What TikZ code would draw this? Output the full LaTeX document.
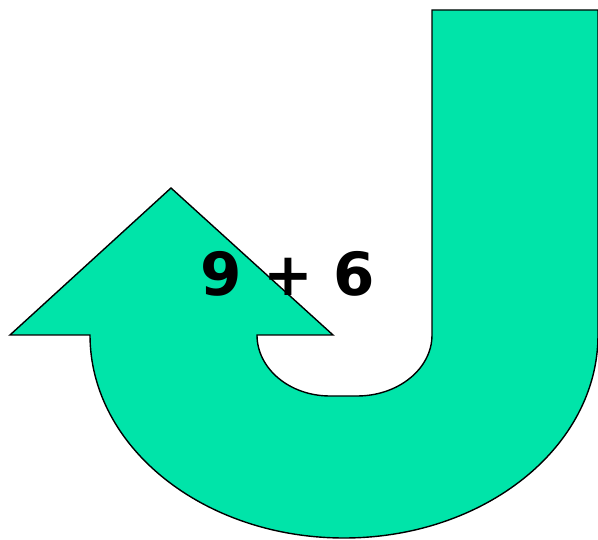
\documentclass[tikz,border=0pt]{standalone}
\usepackage{fontspec}
\usepackage{xcolor}
\usepackage{tikz}
\newfontfamily\sumfont{DejaVu Sans}
\definecolor{turn}{HTML}{00E4A9}

\begin{document}
\begin{tikzpicture}[x=1pt, y=-1pt,
  uturn/.style={draw=black, line width=1.4pt, fill=turn, line join=miter},
  sumlabel/.style={inner sep=0pt, font=\sumfont\bfseries\fontsize{59.5}{64}\selectfont}]
\useasboundingbox (0,0) rectangle (598,540);
% u-turn arrow
\draw[uturn] (432,10) -- (598,10) -- (598,335)
  arc[start angle=0, end angle=180, x radius=254, y radius=203]
  -- (10,335) -- (171,188) -- (333,335) -- (257,335)
  arc[start angle=180, end angle=90, x radius=73, y radius=61]
  -- (357,396)
  arc[start angle=90, end angle=0, x radius=75, y radius=61]
  -- cycle;
\node[sumlabel] (sum) at (288,273.5) {9 + 6};
\end{tikzpicture}
\end{document}
